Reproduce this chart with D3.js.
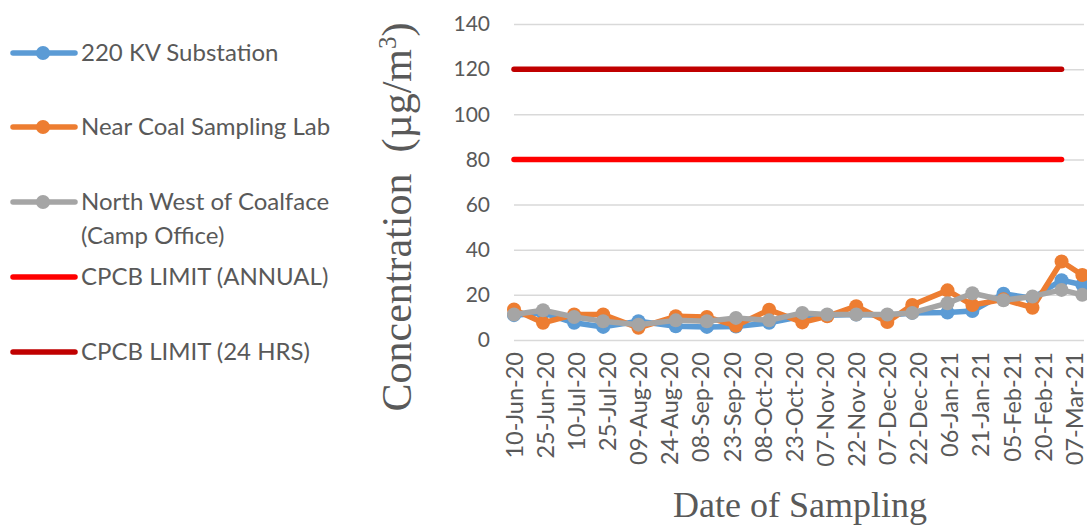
<!DOCTYPE html>
<html>
<head>
<meta charset="utf-8">
<script src="https://cdn.jsdelivr.net/npm/d3@7"></script>
<style>
    body { margin: 0; background: #ffffff; }
    svg { display: block; }
</style>
</head>
<body>
<svg id="drawing_region"></svg>
<script>
// sampling dates and axis tick labels
const sampleDates = [ '10-Jun-20', '24-Jun-20', '09-Jul-20', '23-Jul-20', '09-Aug-20', '27-Aug-20',
    '11-Sep-20', '25-Sep-20', '11-Oct-20', '27-Oct-20', '08-Nov-20', '22-Nov-20', '07-Dec-20',
    '19-Dec-20', '05-Jan-21', '17-Jan-21', '01-Feb-21', '15-Feb-21', '01-Mar-21', '11-Mar-21' ];
const tickLabels = [ '10-Jun-20', '25-Jun-20', '10-Jul-20', '25-Jul-20', '09-Aug-20', '24-Aug-20',
    '08-Sep-20', '23-Sep-20', '08-Oct-20', '23-Oct-20', '07-Nov-20', '22-Nov-20', '07-Dec-20',
    '22-Dec-20', '06-Jan-21', '21-Jan-21', '05-Feb-21', '20-Feb-21', '07-Mar-21' ];

const substation = [ 11, 12, 7.6, 5.8, 8.3, 6.1, 5.8, 6, 7.6, 10.5, 11, 11.3, 11, 12, 12.2, 12.8, 20.5, 18.5, 26.5, 24.5 ];
const coalLab = [ 13.5, 7.6, 11.3, 11.3, 5.4, 10.5, 10.2, 6.3, 13.4, 7.8, 10.5, 15, 8, 15.5, 22, 15.5, 18, 14.3, 34.8, 28.8 ];
const coalface = [ 11.3, 13.2, 10.2, 8.3, 6.8, 8.7, 8.3, 9.8, 8.7, 12, 11.3, 11.3, 11.3, 12, 16.3, 20.7, 17.6, 19.3, 22.2, 20 ];

const limitDates = [ '10-Jun-20', '01-Mar-21' ];
const limitAnnual = [ 80, 80 ];
const limit24 = [ 120, 120 ];

const yTicks = [ 0, 20, 40, 60, 80, 100, 120, 140 ];

const parse = d3.timeParse( '%d-%b-%y' );

const series = [
    { name: ['220 KV Substation'], values: substation, dates: sampleDates, color: '#5B9BD5', marker: true, ly: 53 },
    { name: ['Near Coal Sampling Lab'], values: coalLab, dates: sampleDates, color: '#ED7D31', marker: true, ly: 127 },
    { name: ['North West of Coalface', '(Camp Office)'], values: coalface, dates: sampleDates, color: '#A5A5A5', marker: true, ly: 202 },
    { name: ['CPCB LIMIT (ANNUAL)'], values: limitAnnual, dates: limitDates, color: '#FF0000', marker: false, ly: 277 },
    { name: ['CPCB LIMIT (24 HRS)'], values: limit24, dates: limitDates, color: '#C00000', marker: false, ly: 352 }
];

class LineChart {

    constructor( config, data ) {
        this.config = config;
        this.data = data;
        this.init();
    }

    init() {
        let self = this;

        self.svg = d3.select( self.config.parent )
            .attr( 'width', self.config.width )
            .attr( 'height', self.config.height );

        self.xscale = d3.scaleTime()
            .domain( [ parse( '10-Jun-20' ), parse( '07-Mar-21' ) ] )
            .range( [ 514, 1074 ] );

        self.yscale = d3.scaleLinear()
            .domain( [ 0, 140 ] )
            .range( [ 340, 24 ] );

        self.line = d3.line()
            .x( d => self.xscale( d.date ) )
            .y( d => self.yscale( d.value ) );
    }

    render() {
        let self = this;
        const font = 'Lato, "Open Sans", sans-serif';

        // gridlines + y tick labels
        const yaxis = d3.axisLeft( self.yscale )
            .tickValues( yTicks )
            .tickSize( -570 )
            .tickPadding( 24 );
        const yg = self.svg.append( 'g' )
            .attr( 'transform', 'translate(514,0)' )
            .call( yaxis );
        yg.select( '.domain' ).remove();
        yg.selectAll( '.tick line' ).attr( 'stroke', '#D9D9D9' ).attr( 'stroke-width', 1.5 );
        yg.selectAll( '.tick text' )
            .attr( 'fill', '#595959' )
            .style( 'font-family', font )
            .style( 'font-size', '21px' );

        // x tick labels
        const xaxis = d3.axisBottom( self.xscale )
            .tickValues( tickLabels.map( parse ) )
            .tickFormat( d3.timeFormat( '%d-%b-%y' ) )
            .tickSize( 0 )
            .tickPadding( 0 );
        const xg = self.svg.append( 'g' )
            .attr( 'transform', 'translate(0,340)' )
            .call( xaxis );
        xg.select( '.domain' ).remove();
        xg.selectAll( '.tick text' )
            .attr( 'transform', 'rotate(-90)' )
            .attr( 'x', -12 )
            .attr( 'y', 0 )
            .attr( 'dy', '0.35em' )
            .style( 'text-anchor', 'end' )
            .attr( 'fill', '#595959' )
            .style( 'font-family', font )
            .style( 'font-size', '23.5px' );

        // series lines
        self.data.forEach( s => {
            const pts = s.values.map( ( v, i ) => ( { date: parse( s.dates[i] ), value: v } ) );
            self.svg.append( 'path' )
                .attr( 'd', self.line( pts ) )
                .attr( 'fill', 'none' )
                .attr( 'stroke', s.color )
                .attr( 'stroke-width', 5.5 )
                .attr( 'stroke-linecap', 'round' )
                .attr( 'stroke-linejoin', 'round' );
            if ( s.marker ) {
                self.svg.selectAll( null )
                    .data( pts )
                    .enter()
                    .append( 'circle' )
                    .attr( 'cx', d => self.xscale( d.date ) )
                    .attr( 'cy', d => self.yscale( d.value ) )
                    .attr( 'r', 7 )
                    .attr( 'fill', s.color );
            }
        } );

        // axis titles
        self.svg.append( 'text' )
            .attr( 'transform', 'translate(411,217) rotate(-90)' )
            .style( 'text-anchor', 'middle' )
            .style( 'font-family', '"Liberation Serif", "Times New Roman", serif' )
            .style( 'font-size', '42px' )
            .attr( 'fill', '#595959' )
            .html( 'Concentration&#160;&#160;(µg/m<tspan dy="-15" font-size="25">3</tspan><tspan dy="15">)</tspan>' );

        self.svg.append( 'text' )
            .attr( 'x', 800 )
            .attr( 'y', 517 )
            .style( 'text-anchor', 'middle' )
            .style( 'font-family', '"Liberation Serif", "Times New Roman", serif' )
            .style( 'font-size', '36px' )
            .attr( 'fill', '#595959' )
            .text( 'Date of Sampling' );

        // legend
        const lg = self.svg.append( 'g' );
        self.data.forEach( s => {
            lg.append( 'line' )
                .attr( 'x1', 13 ).attr( 'x2', 75 )
                .attr( 'y1', s.ly ).attr( 'y2', s.ly )
                .attr( 'stroke', s.color )
                .attr( 'stroke-width', 5.5 )
                .attr( 'stroke-linecap', 'round' );
            if ( s.marker ) {
                lg.append( 'circle' )
                    .attr( 'cx', 43 ).attr( 'cy', s.ly )
                    .attr( 'r', 7 )
                    .attr( 'fill', s.color );
            }
            s.name.forEach( ( t, i ) => {
                lg.append( 'text' )
                    .attr( 'x', 81 )
                    .attr( 'y', s.ly + i * 34 )
                    .attr( 'dy', '0.35em' )
                    .attr( 'fill', '#595959' )
                    .style( 'font-family', font )
                    .style( 'font-size', '24px' )
                    .text( t );
            } );
        } );
    }
}

const chart = new LineChart( { parent: '#drawing_region', width: 1087, height: 526 }, series );
chart.render();
</script>
</body>
</html>
